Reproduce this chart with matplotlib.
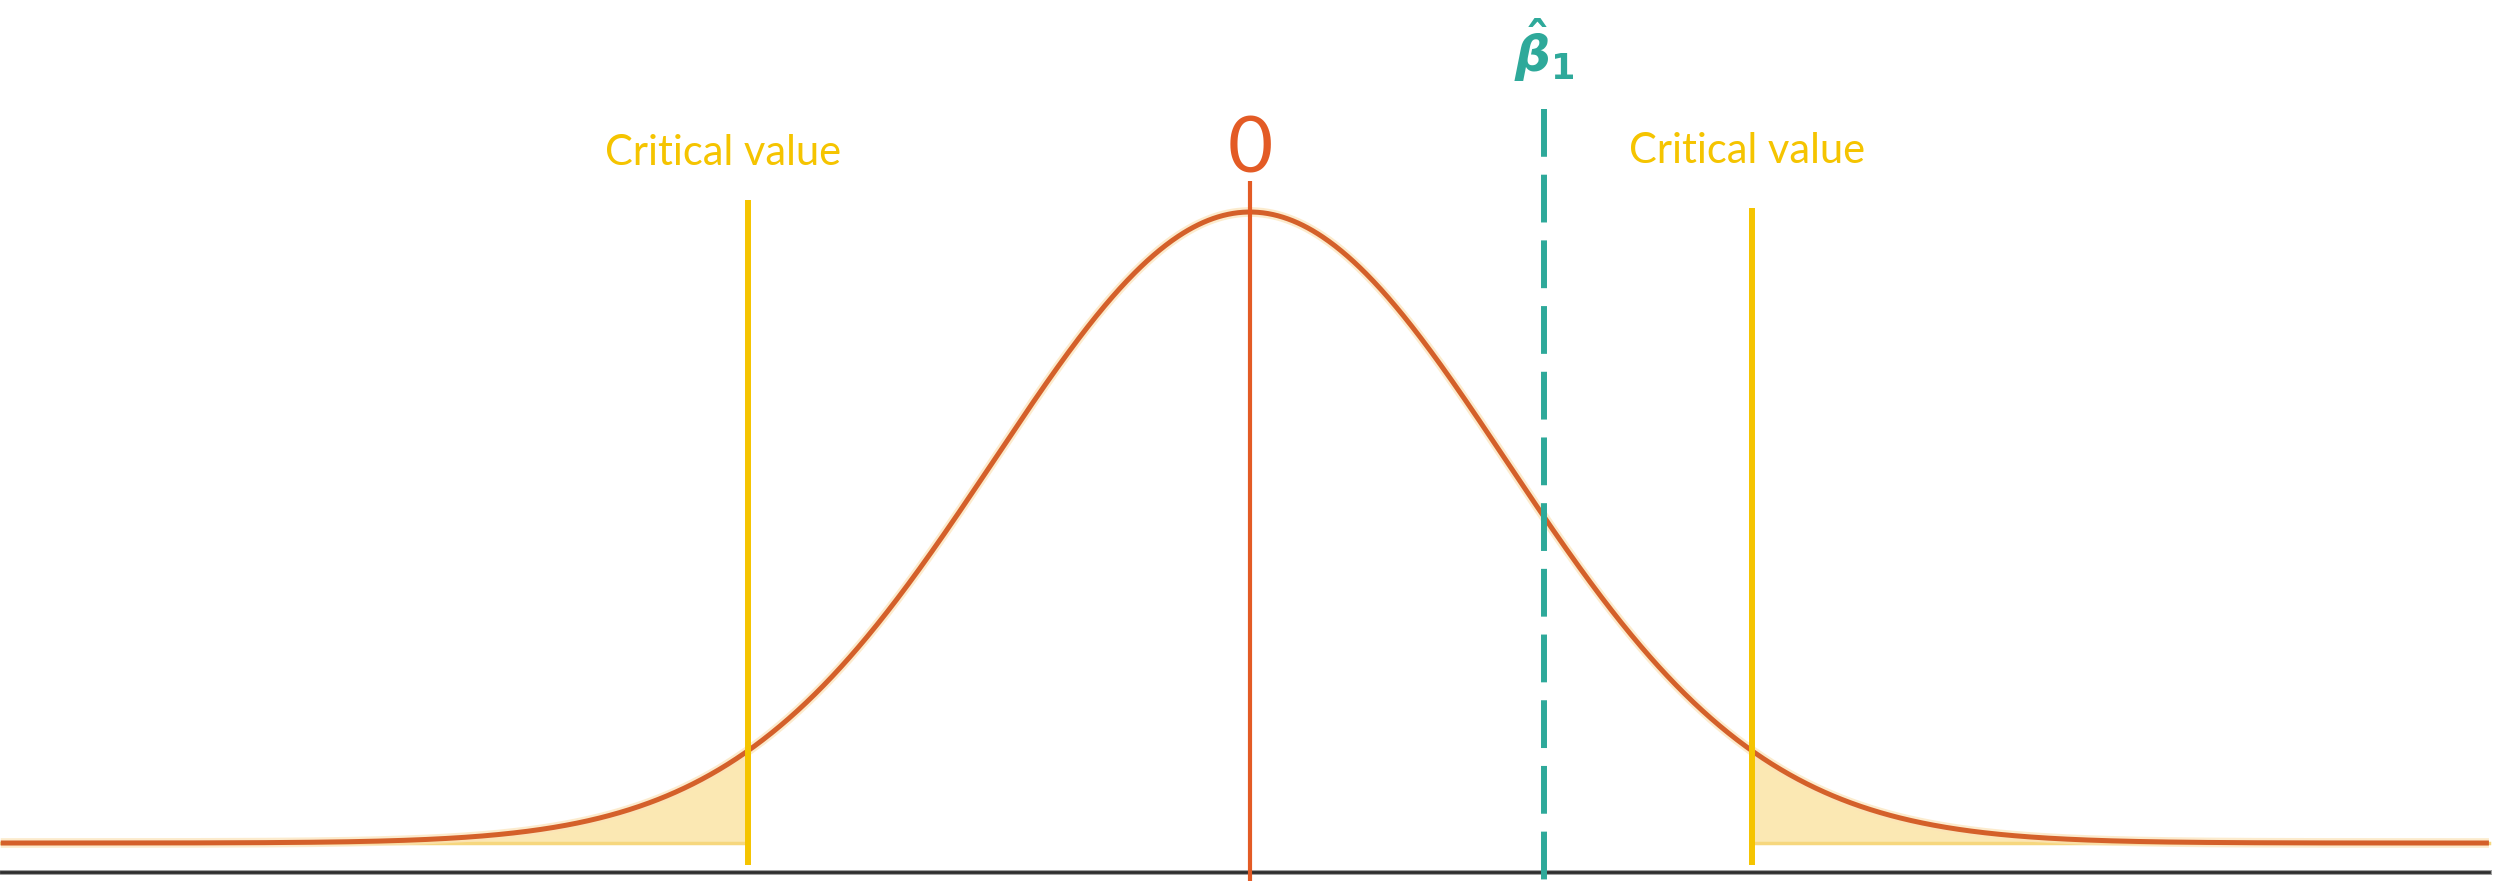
import numpy as np
import matplotlib.pyplot as plt

plt.rcParams["mathtext.fontset"] = "custom"
plt.rcParams["mathtext.it"] = "DejaVu Sans:italic:bold"
plt.rcParams["mathtext.rm"] = "DejaVu Sans:bold"

# test statistic layout (standard normal units)
crit_left = -1.96
crit_right = 1.96
null_value = 0.0
beta_hat = 1.15
x_lo, x_hi = -4.88, 4.84
crit_labels = ["Critical value", "Critical value"]
null_label = "0"
beta_label = r"$\hat{\beta}_\mathrm{1}$"

curve_col = "#D4602A"
null_col = "#E35B25"
crit_col = "#F5C400"
fill_col = "#FBE8B3"
beta_col = "#2EA99A"

fig = plt.figure(figsize=(25.03, 8.81), dpi=100)
ax = fig.add_axes([0, 0, 1, 1])
ax.set_xlim(-4.883, 4.895)
ax.set_ylim(-0.0602, 1.336)
ax.axis("off")

x = np.linspace(x_lo, x_hi, 2000)
y = np.exp(-x ** 2 / 2)

# shaded rejection regions
left = x <= crit_left
right = x >= crit_right
ax.fill_between(x[left], 0, y[left], color=fill_col, lw=0, zorder=1)
ax.fill_between(x[right], 0, y[right], color=fill_col, lw=0, zorder=1)
ax.plot([x_lo, crit_left], [0, 0], color="#F6D77E", lw=2.5, zorder=1.5)
ax.plot([crit_right, x_hi], [0, 0], color="#F6D77E", lw=2.5, zorder=1.5)

# density curve with a soft halo
ax.plot(x, y, color="#FBE3B8", lw=7, alpha=0.7, solid_capstyle="butt", zorder=2)
ax.plot(x, y, color=curve_col, lw=3.6, solid_capstyle="butt", zorder=3)

# horizontal axis
ax.plot([x_lo, x_hi], [-0.046, -0.046], color="#A0A0A0", lw=3.6, zorder=2)
ax.plot([x_lo, x_hi], [-0.046, -0.046], color="#2E2E2E", lw=2.0, zorder=2.5)

# null value
ax.plot([null_value, null_value], [-0.07, 1.049], color=null_col, lw=3.0,
        solid_capstyle="butt", zorder=4)
ax.text(null_value, 1.063, null_label, color=null_col, fontsize=56,
        fontfamily="Lato", ha="center", va="baseline")

# critical values
ax.plot([crit_left, crit_left], [-0.035, 1.019], color=crit_col, lw=4.3,
        solid_capstyle="butt", zorder=5)
ax.plot([crit_right, crit_right], [-0.035, 1.006], color=crit_col, lw=4.3,
        solid_capstyle="butt", zorder=5)
ax.text(-2.06, 1.0745, crit_labels[0], color=crit_col, fontsize=30,
        fontfamily="Lato", ha="center", va="baseline")
ax.text(1.941, 1.0777, crit_labels[1], color=crit_col, fontsize=30,
        fontfamily="Lato", ha="center", va="baseline")

# estimated coefficient
ax.plot([beta_hat, beta_hat], [1.163, -0.07], color=beta_col, lw=4.3,
        dashes=(8, 3), dash_capstyle="butt", zorder=5)
ax.text(beta_hat, 1.203, beta_label, color=beta_col, fontsize=36,
        ha="center", va="bottom")

fig.savefig("out.png", dpi=100)
